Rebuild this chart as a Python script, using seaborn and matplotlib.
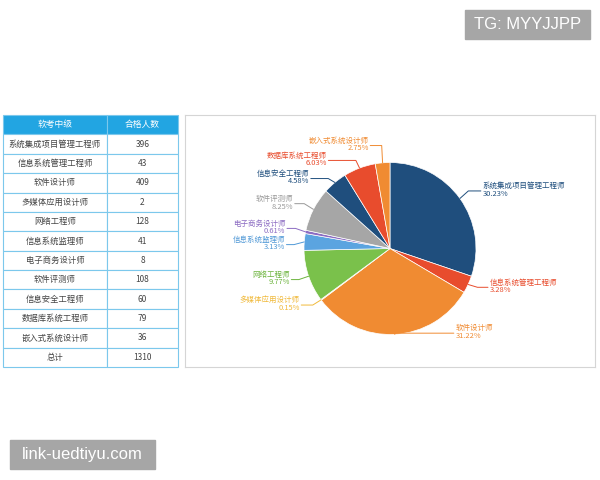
import numpy as np
import matplotlib
matplotlib.use('Agg')
import matplotlib.pyplot as plt
from matplotlib.patches import Rectangle
import seaborn as sns

# ------------------------------------------------------------
# data
# ------------------------------------------------------------
categories = ['系统集成项目管理工程师', '信息系统管理工程师', '软件设计师', '多媒体应用设计师',
              '网络工程师', '信息系统监理师', '电子商务设计师', '软件评测师',
              '信息安全工程师', '数据库系统工程师', '嵌入式系统设计师']
passed = [396, 43, 409, 2, 128, 41, 8, 108, 60, 79, 36]
pct_labels = ['30.23%', '3.28%', '31.22%', '0.15%', '9.77%', '3.13%',
              '0.61%', '8.25%', '4.58%', '6.03%', '2.75%']
header = ['软考中级', '合格人数']
total_label = '总计'

# ------------------------------------------------------------
# style / layout
# ------------------------------------------------------------
sns.set_theme(style='white')
plt.rcParams['font.family'] = ['Noto Sans CJK SC', 'DejaVu Sans']
CJK = ['Noto Sans CJK SC', 'DejaVu Sans']

wedge_colors = sns.color_palette(['#1F4E7D', '#E84C2D', '#F08B32', '#F5C444', '#7AC14B',
                                  '#5BA4E0', '#8C6CC2', '#A6A6A6', '#1F4E7D', '#E84C2D',
                                  '#F08B32'])
label_colors = ['#1F4E7D', '#E84C2D', '#F08B32', '#F0B93A', '#6DB43E',
                '#4F98D6', '#8C6CC2', '#999999', '#1F4E7D', '#E84C2D', '#F08B32']
# leader line horizontal length and vertical nudge (pixels)
label_len2 = [14, 12, 60, 13, 9, 9, 10, 11, 19, 29, 13]
label_dy = [-1.5, -1.5, -11.5, -1, 0, 3.5, -1.5, -1, 4, 2, -7]

W, H = 600, 480
fig = plt.figure(figsize=(6, 4.8), dpi=100)
fig.patch.set_facecolor('white')

# ------------------------------------------------------------
# table on the left
# ------------------------------------------------------------
ax_t = fig.add_axes([3 / W, 1 - 367 / H, 175 / W, 252 / H])
ax_t.axis('off')
cell_text = [[c, str(v)] for c, v in zip(categories, passed)]
cell_text.append([total_label, str(sum(passed))])
tbl = ax_t.table(cellText=cell_text, colLabels=header, colWidths=[0.594, 0.406],
                 bbox=[0, 0, 1, 1], cellLoc='center')
tbl.auto_set_font_size(False)
for (r, c), cell in tbl.get_celld().items():
    cell.set_edgecolor('#7CC8EC')
    cell.set_linewidth(0.8)
    txt = cell.get_text()
    txt.set_fontsize(6)
    txt.set_fontfamily(CJK)
    if r == 0:
        cell.set_facecolor('#22A5E2')
        txt.set_color('white')
        txt.set_fontsize(6.3)
    else:
        cell.set_facecolor('white')
        txt.set_color('#444444')

# ------------------------------------------------------------
# pie on the right (data units = pixels, y flipped)
# ------------------------------------------------------------
ax_p = fig.add_axes([185 / W, 113 / H, 410 / W, 252 / H])
cx, cy, R = 390, 480 - 248.5, 86
wedges, _ = ax_p.pie(passed, colors=wedge_colors, startangle=90, counterclock=False,
                     center=(cx, cy), radius=R, frame=True,
                     wedgeprops=dict(edgecolor='white', linewidth=0.5))
ax_p.set_xlim(185, 595)
ax_p.set_ylim(113, 365)
ax_p.set_xticks([])
ax_p.set_yticks([])
for s in ax_p.spines.values():
    s.set_color('#D5D5D5')
    s.set_linewidth(0.8)

for i, w in enumerate(wedges):
    ang = np.deg2rad((w.theta1 + w.theta2) / 2)
    ex, ey = cx + R * np.cos(ang), cy + R * np.sin(ang)
    bx, by = cx + 1.12 * R * np.cos(ang), cy + 1.12 * R * np.sin(ang) - label_dy[i]
    side = 1 if np.cos(ang) >= 0 else -1
    tx = bx + side * label_len2[i]
    ax_p.plot([ex, bx, tx - side * 1.5], [ey, by, by], color=label_colors[i], lw=0.7)
    ax_p.text(tx, by + 1, f'{categories[i]}\n{pct_labels[i]}', color=label_colors[i],
              fontsize=5.4, ha='left' if side > 0 else 'right', va='center',
              multialignment='left' if side > 0 else 'right', linespacing=0.95,
              family=CJK)

# ------------------------------------------------------------
# watermark boxes
# ------------------------------------------------------------
fig.patches.append(Rectangle((465 / W, 1 - 39 / H), 125 / W, 29 / H,
                             transform=fig.transFigure, color='#A6A6A6', zorder=0))
fig.text(527.5 / W, 1 - 24.5 / H, 'TG: MYYJJPP', color='white', fontsize=12,
         ha='center', va='center', family='Liberation Sans')
fig.patches.append(Rectangle((10 / W, 1 - 469 / H), 145 / W, 29 / H,
                             transform=fig.transFigure, color='#A6A6A6', zorder=0))
fig.text(82.5 / W, 1 - 454.5 / H, 'link-uedtiyu.com', color='white', fontsize=12,
         ha='center', va='center', family='Liberation Sans')

fig.savefig('out.png', dpi=100, facecolor='white')
